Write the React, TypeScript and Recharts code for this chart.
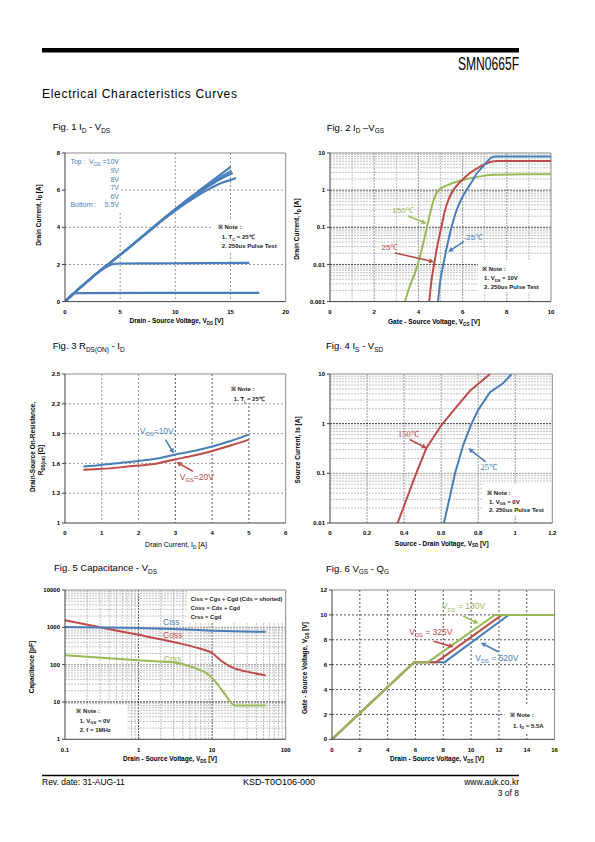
import React from 'react';
import {
  LineChart, Line, XAxis, YAxis, CartesianGrid,
  ReferenceLine, ReferenceArea, ReferenceDot,
} from 'recharts';

type P = [number, number];
type Seg = string | { s: string };

const SANS = "'Liberation Sans', Arial, Helvetica, sans-serif";
const SERIF = "'Liberation Serif', 'Times New Roman', serif";
const BLUE = '#4A7EBB';
const RED = '#BE4B48';
const GREEN = '#98B954';
const G_LIGHT = '#b3b3b3';
const G_MID = '#7f7f7f';
const G_DARK = '#262626';

// ---------------- Fig 1 : ID - VDS ----------------
const fig1XTicks = [0, 5, 10, 15, 20];
const fig1YTicks = [0, 2, 4, 6, 8];
const fig1Vgs10: P[] = [[0, 0], [0.5, 0.28], [1, 0.55], [2, 1.07], [3, 1.58], [4, 2.05], [5, 2.52], [6, 3.0], [7, 3.5], [8, 4.0], [9, 4.5], [10, 4.98], [11, 5.45], [12, 5.9], [13, 6.35], [14, 6.8], [15, 7.25]];
const fig1Vgs9: P[] = [[0, 0], [0.5, 0.28], [1, 0.55], [2, 1.07], [3, 1.58], [4, 2.05], [5, 2.52], [6, 3.0], [7, 3.5], [8, 4.0], [9, 4.5], [10, 4.97], [11, 5.43], [12, 5.86], [13, 6.27], [14, 6.66], [15.1, 7.03]];
const fig1Vgs8: P[] = [[0, 0], [0.5, 0.28], [1, 0.55], [2, 1.07], [3, 1.58], [4, 2.05], [5, 2.52], [6, 3.0], [7, 3.5], [8, 3.99], [9, 4.48], [10, 4.95], [11, 5.4], [12, 5.8], [13, 6.2], [14, 6.57], [15.2, 6.92]];
const fig1Vgs7: P[] = [[0, 0], [0.5, 0.28], [1, 0.55], [2, 1.07], [3, 1.58], [4, 2.05], [5, 2.52], [6, 3.0], [7, 3.49], [8, 3.97], [9, 4.45], [10, 4.9], [11, 5.32], [12, 5.7], [13, 6.04], [14, 6.35], [15, 6.55], [15.5, 6.65]];
const fig1Vgs6: P[] = [[0, 0], [0.5, 0.28], [1, 0.55], [2, 1.07], [3, 1.56], [3.5, 1.78], [4, 1.95], [4.5, 2.03], [5, 2.05], [8, 2.06], [12, 2.07], [16.7, 2.08]];
const fig1Vgs55: P[] = [[0, 0], [0.3, 0.2], [0.6, 0.38], [0.9, 0.45], [1.5, 0.46], [8, 0.47], [17.6, 0.47]];

// ---------------- Fig 2 : ID - VGS ----------------
const fig2XTicks = [0, 2, 4, 6, 8, 10];
const fig2YTicks = [0.001, 0.01, 0.1, 1, 10];
const fig2T150: P[] = [[3.39, 0.001], [3.6, 0.0025], [3.8, 0.005], [3.97, 0.01], [4.15, 0.025], [4.35, 0.08], [4.5, 0.2], [4.65, 0.45], [4.8, 0.8], [5.0, 1.1], [5.3, 1.35], [5.7, 1.65], [6.2, 2.0], [6.8, 2.35], [7.4, 2.58], [8, 2.65], [10, 2.67]];
const fig2T25: P[] = [[4.49, 0.001], [4.6, 0.004], [4.71, 0.01], [4.85, 0.03], [5.05, 0.11], [5.2, 0.28], [5.35, 0.53], [5.58, 1.0], [5.8, 1.45], [6.03, 2.0], [6.3, 2.8], [6.64, 3.8], [7.0, 5.0], [7.3, 5.85], [7.6, 6.1], [10, 6.1]];
const fig2Tm25: P[] = [[4.89, 0.001], [5.0, 0.004], [5.13, 0.01], [5.28, 0.028], [5.43, 0.068], [5.58, 0.15], [5.73, 0.29], [5.9, 0.5], [6.03, 0.72], [6.26, 1.2], [6.45, 1.8], [6.64, 2.8], [6.85, 3.9], [7.09, 5.7], [7.3, 7.5], [7.5, 8.1], [10, 8.1]];

// ---------------- Fig 3 : RDS(on) - ID ----------------
const fig3XTicks = [0, 1, 2, 3, 4, 5, 6];
const fig3YTicks = [1, 1.3, 1.6, 1.9, 2.2, 2.5];
const fig3Vgs10: P[] = [[0.5, 1.57], [1, 1.585], [1.5, 1.605], [2, 1.625], [2.5, 1.65], [3, 1.69], [3.5, 1.725], [4, 1.77], [4.5, 1.825], [5, 1.89]];
const fig3Vgs20: P[] = [[0.5, 1.535], [1, 1.545], [1.5, 1.56], [2, 1.578], [2.5, 1.6], [3, 1.64], [3.5, 1.68], [4, 1.725], [4.5, 1.78], [5, 1.84]];

// ---------------- Fig 4 : IS - VSD ----------------
const fig4XTicks = [0, 0.2, 0.4, 0.6, 0.8, 1, 1.2];
const fig4YTicks = [0.01, 0.1, 1, 10];
const fig4T150: P[] = [[0.365, 0.01], [0.405, 0.025], [0.459, 0.087], [0.52, 0.32], [0.603, 0.95], [0.684, 2.2], [0.756, 4.6], [0.864, 10]];
const fig4T25: P[] = [[0.615, 0.01], [0.648, 0.035], [0.675, 0.1], [0.72, 0.38], [0.761, 0.95], [0.8, 1.9], [0.864, 4.3], [0.936, 6.6], [0.98, 10]];

// ---------------- Fig 5 : Capacitance - VDS ----------------
const fig5XTicks = [0.1, 1, 10, 100];
const fig5YTicks = [1, 10, 100, 1000, 10000];
const fig5Ciss: P[] = [[0.1, 1020], [0.3, 990], [1, 960], [3, 900], [10, 815], [20, 780], [53.5, 760]];
const fig5Coss: P[] = [[0.1, 1540], [0.3, 1000], [1, 630], [3.2, 390], [6.8, 270], [9.8, 210], [14, 118], [20.5, 78], [29, 66], [53.5, 51]];
const fig5Crss: P[] = [[0.1, 178], [1, 131], [3.2, 112], [6.1, 78], [8.3, 60], [10.7, 38], [14.8, 16.6], [20.4, 8.1], [53.5, 8.1]];

// ---------------- Fig 6 : VGS - QG ----------------
const fig6XTicks = [0, 2, 4, 6, 8, 10, 12, 14, 16];
const fig6YTicks = [0, 2, 4, 6, 8, 10, 12];
const fig6V130: P[] = [[0, 0], [5.9, 6.2], [6.9, 6.2], [11.7, 10], [16, 10]];
const fig6V325: P[] = [[0, 0], [5.9, 6.2], [7.5, 6.2], [12.2, 10], [16, 10]];
const fig6V520: P[] = [[0, 0], [5.9, 6.2], [8.1, 6.2], [12.7, 10], [16, 10]];

// ---------------- annotation anchors (data space) ----------------
const fig2Arrows: [P, P, string][] = [[[3.54, 0.2], [4.37, 0.126], GREEN], [[2.94, 0.0204], [4.71, 0.0117], RED], [[6.06, 0.042], [5.35, 0.0217], BLUE]];
const fig3Arrows: [P, P, string][] = [[[2.73, 1.84], [2.96, 1.7], BLUE], [[3.48, 1.52], [3.03, 1.614], RED]];
const fig4Arrows: [P, P, string][] = [[[0.43, 0.48], [0.522, 0.32], RED], [[0.84, 0.17], [0.747, 0.32], BLUE]];
const fig6Arrows: [P, P, string][] = [[[9.43, 9.91], [10.53, 9.3], GREEN], [[7.3, 7.88], [8.74, 7.42], RED], [[11.97, 7.02], [10.7, 7.77], BLUE]];

function logMinor(lo: number, hi: number): number[] {
  const out: number[] = [];
  for (let d = lo; d < hi * 0.999; d *= 10) {
    for (let m = 2; m <= 9; m++) out.push(+(d * m).toPrecision(3));
  }
  return out;
}

const rows = (p: P[]) => p.map(([x, y]) => ({ x, y }));

function Rich(props: {
  x: number; y: number; segs: Seg[]; size: number; fill?: string;
  anchor?: 'start' | 'middle' | 'end'; weight?: string | number; family?: string; transform?: string;
}) {
  const { x, y, segs, size, fill = '#000', anchor = 'start', weight = 'normal', family = SANS, transform } = props;
  const sh = size * 0.3;
  let shifted = false;
  const kids = segs.map((sg, i) => {
    if (typeof sg === 'string') {
      const el = <tspan key={i} dy={shifted ? -sh : 0}>{sg}</tspan>;
      shifted = false;
      return el;
    }
    const el = <tspan key={i} dy={shifted ? 0 : sh} fontSize={size * 0.68}>{sg.s}</tspan>;
    shifted = true;
    return el;
  });
  return (
    <text x={x} y={y} fontSize={size} fill={fill} textAnchor={anchor} fontWeight={weight}
      fontFamily={family} transform={transform}>{kids}</text>
  );
}

interface GridDef { values: number[]; stroke: string; dash: string }
interface NoteLine { dx: number; dy: number; segs: Seg[]; anchor?: 'start' | 'end' }
interface NoteDef {
  x1: number; x2: number; y1: number; y2: number; lines: NoteLine[];
  color?: string; size?: number; weight?: string | number;
}
interface TextDef {
  x: number; y: number; segs: Seg[]; color: string; size?: number; family?: string;
  anchor?: 'start' | 'middle' | 'end';
}
interface SeriesDef { pts: P[]; color: string; curve?: 'monotone' | 'linear'; w?: number }

interface PlotProps {
  box: [number, number, number, number];
  xDomain: [number, number]; yDomain: [number, number];
  xTicks: number[]; yTicks: number[];
  xLog?: boolean; yLog?: boolean;
  vGrid: GridDef[]; hGrid: GridDef[];
  series: SeriesDef[];
  notes?: NoteDef[]; texts?: TextDef[]; arrows?: [P, P, string][];
}

const arrowShape = (color: string) => (p: any) => {
  const { x1, y1, x2, y2 } = p;
  if ([x1, y1, x2, y2].some((v) => typeof v !== 'number' || isNaN(v))) return <g />;
  const ang = Math.atan2(y2 - y1, x2 - x1);
  const len = 5;
  const wid = 2.6;
  const bx = x2 - len * Math.cos(ang);
  const by = y2 - len * Math.sin(ang);
  const px = -Math.sin(ang) * wid;
  const py = Math.cos(ang) * wid;
  return (
    <g>
      <line x1={x1} y1={y1} x2={bx} y2={by} stroke={color} strokeWidth={1.6} />
      <polygon points={`${x2},${y2} ${bx + px},${by + py} ${bx - px},${by - py}`} fill={color} />
    </g>
  );
};

function Plot(p: PlotProps) {
  const [L, T, R, B] = p.box;
  const ml = 45;
  const mt = 10;
  const mr = 10;
  const xb = 30;
  const W = R - L + ml + mr;
  const H = B - T + mt + xb;
  const tickStyle = { fontSize: 6, fontWeight: 700, fill: '#000', fontFamily: SANS };
  return (
    <div style={{ position: 'absolute', left: L - ml, top: T - mt, width: W, height: H }}>
      <LineChart width={W} height={H} margin={{ top: mt, right: mr, bottom: 0, left: 0 }}>
        {p.vGrid.map((g, i) => (
          <CartesianGrid key={'v' + i} horizontal={false} vertical verticalValues={g.values}
            stroke={g.stroke} strokeDasharray={g.dash} strokeWidth={0.8} />
        ))}
        {p.hGrid.map((g, i) => (
          <CartesianGrid key={'h' + i} vertical={false} horizontal horizontalValues={g.values}
            stroke={g.stroke} strokeDasharray={g.dash} strokeWidth={0.8} />
        ))}
        <XAxis type="number" dataKey="x" domain={p.xDomain} ticks={p.xTicks}
          scale={p.xLog ? 'log' : 'linear'} allowDataOverflow interval={0} tick={tickStyle}
          tickLine={false} tickSize={3} tickMargin={5} axisLine={{ stroke: '#404040' }} height={xb} />
        <YAxis type="number" dataKey="y" domain={p.yDomain} ticks={p.yTicks}
          scale={p.yLog ? 'log' : 'linear'} allowDataOverflow interval={0} tick={tickStyle}
          tickLine={{ stroke: '#404040' }} tickSize={3} tickMargin={2}
          axisLine={{ stroke: '#404040' }} width={ml} />
        <ReferenceLine y={p.yDomain[1]} stroke="#8c8c8c" strokeWidth={1} />
        <ReferenceLine x={p.xDomain[1]} stroke="#8c8c8c" strokeWidth={1} />
        {(p.notes || []).map((n, i) => (
          <ReferenceArea key={'n' + i} x1={n.x1} x2={n.x2} y1={n.y1} y2={n.y2}
            shape={(r: any) => (
              <g>
                <rect x={r.x} y={r.y} width={r.width} height={r.height} fill="#fff" />
                {n.lines.map((ln, j) => (
                  <Rich key={j} x={r.x + ln.dx} y={r.y + ln.dy} segs={ln.segs}
                    size={n.size || 6} fill={n.color || '#1a1a1a'} anchor={ln.anchor || 'start'}
                    weight={n.weight === undefined ? 700 : n.weight} />
                ))}
              </g>
            )} />
        ))}
        {p.series.map((s, i) => (
          <Line key={'s' + i} data={rows(s.pts)} dataKey="y" type={s.curve || 'monotone'}
            stroke={s.color} strokeWidth={s.w || 2} dot={false} activeDot={false}
            isAnimationActive={false} />
        ))}
        {(p.arrows || []).map((a, i) => (
          <ReferenceLine key={'a' + i} segment={[{ x: a[0][0], y: a[0][1] }, { x: a[1][0], y: a[1][1] }]}
            shape={arrowShape(a[2])} />
        ))}
        {(p.texts || []).map((t, i) => (
          <ReferenceDot key={'t' + i} x={t.x} y={t.y} r={0}
            shape={(d: any) => (
              <Rich x={d.cx} y={d.cy} segs={t.segs} size={t.size || 8.5} fill={t.color}
                anchor={t.anchor || 'start'} family={t.family || SANS} />
            )} />
        ))}
      </LineChart>
    </div>
  );
}

function RotText({ x, y, segs, size = 6.5, weight = 700 }: { x: number; y: number; segs: Seg[]; size?: number; weight?: number | string }) {
  return <Rich x={x} y={y} segs={segs} size={size} anchor="middle" weight={weight} transform={`rotate(-90 ${x} ${y})`} />;
}

export default function App() {
  const minor2 = logMinor(0.001, 10);
  const minor4 = logMinor(0.01, 10);
  const minor5x = logMinor(0.1, 100);
  const minor5y = logMinor(1, 10000);
  const axisSize = 6.5;
  return (
    <div style={{ position: 'absolute', left: 0, top: 0, width: 595, height: 842, background: '#fff', overflow: 'hidden' }}>
      {/* Fig 1 */}
      <Plot box={[65.3, 152.7, 286, 301.3]} xDomain={[0, 20]} yDomain={[0, 8]}
        xTicks={fig1XTicks} yTicks={fig1YTicks}
        vGrid={[{ values: [5, 10, 15], stroke: G_MID, dash: '2 2' }]}
        hGrid={[{ values: [2, 4, 6], stroke: G_MID, dash: '2 2' }]}
        series={[
          { pts: fig1Vgs55, color: BLUE, w: 2.2 }, { pts: fig1Vgs6, color: BLUE, w: 2.2 },
          { pts: fig1Vgs7, color: BLUE, w: 2.2 }, { pts: fig1Vgs8, color: BLUE, w: 2.2 },
          { pts: fig1Vgs9, color: BLUE, w: 2.2 }, { pts: fig1Vgs10, color: BLUE, w: 2.2 },
        ]}
        notes={[
          {
            x1: 0, x2: 5.1, y1: 4.85, y2: 8, color: BLUE, size: 7, weight: 400,
            lines: [
              { dx: 5.4, dy: 11.3, segs: ['Top :'] },
              { dx: 54, dy: 11.3, segs: ['V', { s: 'GS' }, ' =10V'], anchor: 'end' },
              { dx: 54, dy: 20.1, segs: ['9V'], anchor: 'end' },
              { dx: 54, dy: 28.8, segs: ['8V'], anchor: 'end' },
              { dx: 54, dy: 37.1, segs: ['7V'], anchor: 'end' },
              { dx: 54, dy: 45.8, segs: ['6V'], anchor: 'end' },
              { dx: 5.4, dy: 54.5, segs: ['Bottom :'] },
              { dx: 54, dy: 54.5, segs: ['5.5V'], anchor: 'end' },
            ],
          },
          {
            x1: 13.4, x2: 20, y1: 2.7, y2: 4.38,
            lines: [
              { dx: 5, dy: 9, segs: ['※ Note :'] },
              { dx: 9, dy: 18.5, segs: ['1. T', { s: 'C' }, ' = 25℃'] },
              { dx: 9, dy: 27.5, segs: ['2. 250us Pulse Test'] },
            ],
          },
        ]}
      />

      {/* Fig 2 */}
      <Plot box={[330, 152.7, 551, 301.3]} xDomain={[0, 10]} yDomain={[0.001, 10]} yLog
        xTicks={fig2XTicks} yTicks={fig2YTicks}
        vGrid={[
          { values: [1, 3, 5, 7, 9], stroke: G_LIGHT, dash: '2 1' },
          { values: [2, 4, 6, 8], stroke: G_MID, dash: '2 1' },
        ]}
        hGrid={[
          { values: minor2, stroke: G_LIGHT, dash: '2 1' },
          { values: [0.01, 0.1, 1], stroke: G_DARK, dash: '2 1' },
        ]}
        series={[
          { pts: fig2T150, color: GREEN }, { pts: fig2T25, color: RED }, { pts: fig2Tm25, color: BLUE },
        ]}
        notes={[{
          x1: 6.7, x2: 10, y1: 0.0018, y2: 0.0126,
          lines: [
            { dx: 4, dy: 10, segs: ['※ Note :'] },
            { dx: 6, dy: 19.5, segs: ['1. V', { s: 'DS' }, ' = 10V'] },
            { dx: 6, dy: 28.5, segs: ['2. 250us Pulse Test'] },
          ],
        }]}
        arrows={fig2Arrows}
        texts={[
          { x: 3.3, y: 0.249, segs: ['150℃'], color: GREEN, anchor: 'middle', size: 8 },
          { x: 2.71, y: 0.0245, segs: ['25℃'], color: RED, anchor: 'middle', size: 8 },
          { x: 6.49, y: 0.0455, segs: ['-25℃'], color: BLUE, anchor: 'middle', size: 8 },
        ]}
      />

      {/* Fig 3 */}
      <Plot box={[65.3, 374.3, 286, 523.3]} xDomain={[0, 6]} yDomain={[1, 2.5]}
        xTicks={fig3XTicks} yTicks={fig3YTicks}
        vGrid={[
          { values: [1, 2], stroke: G_MID, dash: '2 2' },
          { values: [3, 4, 5], stroke: G_DARK, dash: '2 2' },
        ]}
        hGrid={[{ values: [1.3, 1.6, 1.9, 2.2], stroke: G_MID, dash: '2 2' }]}
        series={[{ pts: fig3Vgs20, color: RED }, { pts: fig3Vgs10, color: BLUE }]}
        notes={[{
          x1: 4.4, x2: 6, y1: 2.21, y2: 2.5,
          lines: [
            { dx: 4, dy: 17, segs: ['※ Note :'] },
            { dx: 7, dy: 27, segs: ['1. T', { s: 'j' }, ' = 25℃'] },
          ],
        }]}
        arrows={fig3Arrows}
        texts={[
          { x: 2.03, y: 1.9, segs: ['V', { s: 'GS' }, '=10V'], color: BLUE },
          { x: 3.12, y: 1.436, segs: ['V', { s: 'GS' }, '=20V'], color: RED },
        ]}
      />

      {/* Fig 4 */}
      <Plot box={[330, 374.3, 552.3, 523.3]} xDomain={[0, 1.2]} yDomain={[0.01, 10]} yLog
        xTicks={fig4XTicks} yTicks={fig4YTicks}
        vGrid={[{ values: [0.2, 0.4, 0.6, 0.8, 1], stroke: G_MID, dash: '2 1' }]}
        hGrid={[
          { values: minor4, stroke: G_LIGHT, dash: '2 1' },
          { values: [0.1], stroke: G_MID, dash: '2 1' },
          { values: [1], stroke: '#000', dash: '2 1' },
        ]}
        series={[
          { pts: fig4T150, color: RED, curve: 'linear' }, { pts: fig4T25, color: BLUE, curve: 'linear' },
        ]}
        notes={[{
          x1: 0.826, x2: 1.2, y1: 0.014, y2: 0.062,
          lines: [
            { dx: 4, dy: 11, segs: ['※ Note :'] },
            { dx: 6, dy: 20, segs: ['1. V', { s: 'GS' }, ' = 0V'] },
            { dx: 6, dy: 28.5, segs: ['2. 250us Pulse Test'] },
          ],
        }]}
        arrows={fig4Arrows}
        texts={[
          { x: 0.423, y: 0.547, segs: ['150℃'], color: RED, anchor: 'middle', family: SERIF, size: 8.5 },
          { x: 0.857, y: 0.117, segs: ['25℃'], color: BLUE, anchor: 'middle', family: SERIF, size: 8.5 },
        ]}
      />

      {/* Fig 5 */}
      <Plot box={[65.3, 589.7, 286, 739]} xDomain={[0.1, 100]} yDomain={[1, 10000]} xLog yLog
        xTicks={fig5XTicks} yTicks={fig5YTicks}
        vGrid={[
          { values: minor5x, stroke: G_LIGHT, dash: '2 1' },
          { values: [1, 10], stroke: G_DARK, dash: '2 1' },
        ]}
        hGrid={[
          { values: minor5y, stroke: G_LIGHT, dash: '2 1' },
          { values: [100, 1000], stroke: G_MID, dash: '2 1' },
          { values: [10], stroke: '#000', dash: '2 1' },
        ]}
        series={[
          { pts: fig5Crss, color: GREEN }, { pts: fig5Coss, color: RED }, { pts: fig5Ciss, color: BLUE },
        ]}
        notes={[
          {
            x1: 4.65, x2: 100, y1: 1350, y2: 10000, size: 5.8,
            lines: [
              { dx: 3, dy: 11, segs: ['Ciss = Cgs + Cgd (Cds = shorted)'] },
              { dx: 3, dy: 20, segs: ['Coss = Cds + Cgd'] },
              { dx: 3, dy: 29, segs: ['Crss = Cgd'] },
            ],
          },
          {
            x1: 0.1, x2: 0.71, y1: 1, y2: 8.5,
            lines: [
              { dx: 11.4, dy: 8.7, segs: ['※ Note :'] },
              { dx: 14.7, dy: 18, segs: ['1. V', { s: 'GS' }, ' = 0V'] },
              { dx: 14.7, dy: 27, segs: ['2. f = 1MHz'] },
            ],
          },
        ]}
        texts={[
          { x: 2.15, y: 1167, segs: ['Ciss'], color: BLUE },
          { x: 2.15, y: 525, segs: ['Coss'], color: RED },
          { x: 2.2, y: 119, segs: ['Crss'], color: GREEN },
        ]}
      />

      {/* Fig 6 */}
      <Plot box={[331.7, 589.7, 554.3, 739]} xDomain={[0, 16]} yDomain={[0, 12]}
        xTicks={fig6XTicks} yTicks={fig6YTicks}
        vGrid={[{ values: [2, 4, 6, 8, 10, 12, 14], stroke: G_DARK, dash: '2 2' }]}
        hGrid={[{ values: [2, 4, 6, 8, 10], stroke: G_DARK, dash: '2 2' }]}
        series={[
          { pts: fig6V520, color: BLUE, curve: 'linear' }, { pts: fig6V325, color: RED, curve: 'linear' },
          { pts: fig6V130, color: GREEN, curve: 'linear' },
        ]}
        notes={[{
          x1: 12.4, x2: 16, y1: 0.5, y2: 2.7,
          lines: [
            { dx: 5.7, dy: 11.2, segs: ['※ Note :'] },
            { dx: 8.4, dy: 21.9, segs: ['1. I', { s: 'D' }, ' = 5.5A'] },
          ],
        }]}
        arrows={fig6Arrows}
        texts={[
          { x: 7.9, y: 10.45, segs: ['V', { s: 'DS' }, ' = 130V'], color: GREEN },
          { x: 5.55, y: 8.4, segs: ['V', { s: 'DS' }, ' = 325V'], color: RED },
          { x: 10.3, y: 6.3, segs: ['V', { s: 'DS' }, ' = 520V'], color: BLUE },
        ]}
      />

      {/* page text */}
      <svg width={595} height={842} style={{ position: 'absolute', left: 0, top: 0, pointerEvents: 'none' }}>
        <rect x={42} y={48} width={477} height={4.5} fill="#000" />
        <text x={519} y={70} textAnchor="end" fontSize={18} fontFamily={SANS}
          textLength={61} lengthAdjust="spacingAndGlyphs">SMN0665F</text>
        <text x={42} y={97.5} fontSize={12} fontFamily={SANS}
          textLength={195} lengthAdjust="spacing">Electrical Characteristics Curves</text>

        <Rich x={52.7} y={130} size={9.5} segs={['Fig. 1 I', { s: 'D' }, ' - V', { s: 'DS' }]} />
        <Rich x={326.7} y={130.5} size={9.5} segs={['Fig. 2 I', { s: 'D' }, ' –V', { s: 'GS' }]} />
        <Rich x={52.7} y={349.3} size={9.5} segs={['Fig. 3 R', { s: 'DS(ON)' }, ' - I', { s: 'D' }]} />
        <Rich x={326} y={349} size={9.5} segs={['Fig. 4 I', { s: 'S' }, ' - V', { s: 'SD' }]} />
        <Rich x={54} y={570.7} size={9.5} segs={['Fig. 5 Capacitance - V', { s: 'DS' }]} />
        <Rich x={326} y={571.5} size={9.5} segs={['Fig. 6 V', { s: 'GS' }, ' - Q', { s: 'G' }]} />

        <Rich x={176.5} y={323} size={axisSize} weight={700} anchor="middle" segs={['Drain - Source Voltage, V', { s: 'DS' }, ' [V]']} />
        <Rich x={434} y={324} size={axisSize} weight={700} anchor="middle" segs={['Gate - Source Voltage, V', { s: 'GS' }, ' [V]']} />
        <Rich x={176} y={547} size={7} weight={400} anchor="middle" segs={['Drain Current, I', { s: 'D' }, ' [A]']} />
        <Rich x={441.7} y={545.5} size={axisSize} weight={700} anchor="middle" segs={['Source - Drain Voltage, V', { s: 'SD' }, ' [V]']} />
        <Rich x={170} y={761} size={axisSize} weight={700} anchor="middle" segs={['Drain - Source Voltage, V', { s: 'DS' }, ' [V]']} />
        <Rich x={437} y={761} size={axisSize} weight={700} anchor="middle" segs={['Drain - Source Voltage, V', { s: 'DS' }, ' [V]']} />

        <RotText x={40.5} y={215} segs={['Drain Current, I', { s: 'D' }, ' [A]']} />
        <RotText x={299} y={229} segs={['Drain Current, I', { s: 'D' }, ' [A]']} />
        <RotText x={35.3} y={447} segs={['Drain-Source On-Resistance,']} />
        <RotText x={43} y={460} segs={['R', { s: 'DS(on)' }, ' [Ω]']} />
        <RotText x={299.6} y={450} segs={['Source Current, Is [A]']} />
        <RotText x={34} y={667} segs={['Capacitance [pF]']} />
        <RotText x={306.6} y={668} segs={['Gate - Source Voltage, V', { s: 'GS' }, ' [V]']} />

        <line x1={42} x2={519} y1={775.5} y2={775.5} stroke="#000" strokeWidth={1.5} />
        <text x={42} y={784.5} fontSize={8.5} fontFamily={SANS}>Rev. date: 31-AUG-11</text>
        <text x={243} y={784.5} fontSize={9} fontFamily={SANS}>KSD-T0O106-000</text>
        <text x={519} y={784.5} fontSize={8.5} fontFamily={SANS} textAnchor="end">www.auk.co.kr</text>
        <text x={519} y={796} fontSize={8.5} fontFamily={SANS} textAnchor="end">3 of 8</text>
      </svg>
    </div>
  );
}
